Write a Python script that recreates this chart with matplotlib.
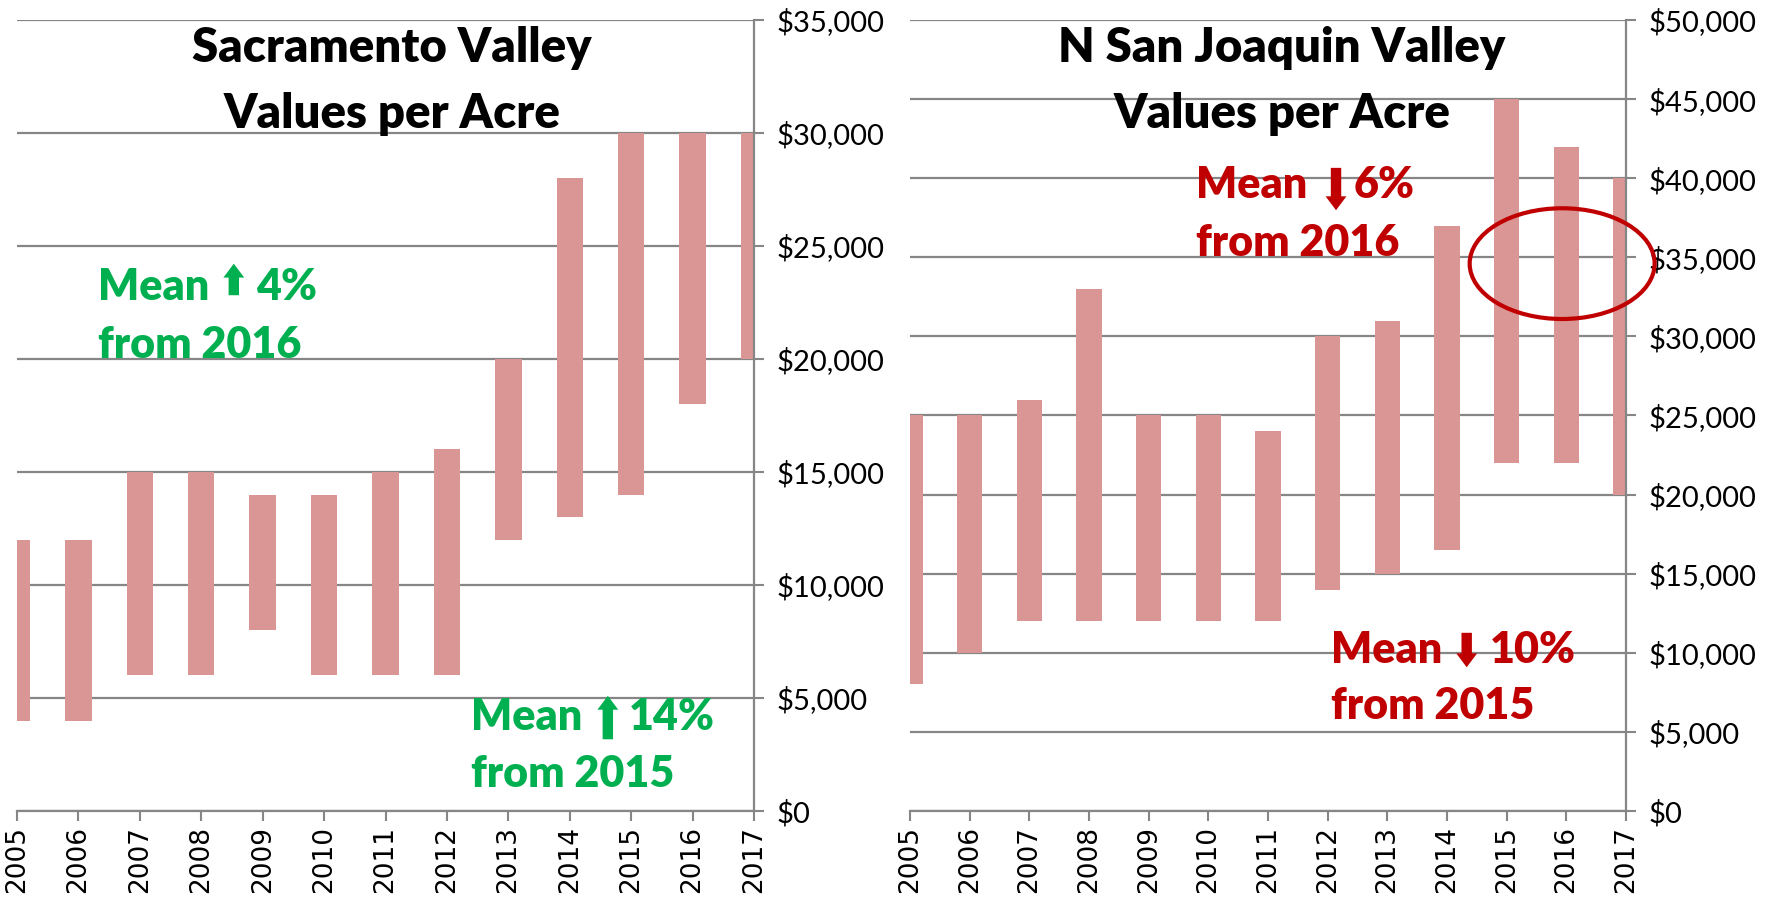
import matplotlib
matplotlib.use("Agg")
import matplotlib.pyplot as plt
from matplotlib.patches import Ellipse
from matplotlib.ticker import FuncFormatter

# ── Data ───────────────────────────────────────────────────────
YEARS = [2005, 2006, 2007, 2008, 2009, 2010, 2011, 2012, 2013, 2014, 2015, 2016, 2017]

SAC_LOW = [4000, 4000, 6000, 6000, 8000, 6000, 6000, 6000, 12000, 13000, 14000, 18000, 20000]
SAC_HIGH = [12000, 12000, 15000, 15000, 14000, 14000, 15000, 16000, 20000, 28000, 30000, 30000, 30000]

NSJ_LOW = [8000, 10000, 12000, 12000, 12000, 12000, 12000, 14000, 15000, 16500, 22000, 22000, 20000]
NSJ_HIGH = [25000, 25000, 26000, 33000, 25000, 25000, 24000, 30000, 31000, 37000, 45000, 42000, 40000]

BAR_COLOR = "#D99694"
GRID = "#868686"
GREEN = "#00B050"
RED = "#C00000"
FONT = "Lato"

fig = plt.figure(figsize=(17.77, 9), dpi=100)
ax1 = fig.add_axes([17 / 1777, 89 / 900, 737 / 1777, 791 / 900])
ax2 = fig.add_axes([910 / 1777, 89 / 900, 716 / 1777, 791 / 900])


def money(v, _):
    return f"${v:,.0f}"


def style_axes(ax, low, high, ymax, step):
    ax.bar(YEARS, [h - l for h, l in zip(high, low)], bottom=low,
           width=0.43, color=BAR_COLOR, zorder=2)
    ax.set_xlim(2005, 2017)
    ax.set_ylim(0, ymax)
    ax.set_yticks(range(0, ymax + 1, step))
    ax.set_xticks(YEARS)
    ax.set_xticklabels([str(y) for y in YEARS], rotation=90,
                       fontsize=19, family="DejaVu Sans")
    ax.yaxis.tick_right()
    ax.yaxis.set_major_formatter(FuncFormatter(money))
    ax.tick_params(axis="y", direction="out", length=7, width=1.5,
                   color=GRID, pad=9, labelsize=21, labelfontfamily=FONT)
    ax.tick_params(axis="x", direction="out", length=7, width=1.5,
                   color=GRID, pad=4)
    ax.grid(axis="y", color=GRID, linewidth=1.6)
    ax.set_axisbelow(True)
    for side in ("top", "left"):
        ax.spines[side].set_visible(False)
    for side in ("right", "bottom"):
        ax.spines[side].set_color(GRID)
        ax.spines[side].set_linewidth(1.6)


def mean_note(ax, x, y, word, arrow_x, arrow_y0, arrow_y1, pct_x, pct, line2, y2, color):
    kw = dict(fontsize=31, fontweight="heavy", family=FONT, color=color,
              va="baseline", ha="left")
    ax.text(x, y, word, **kw)
    ax.text(pct_x, y, pct, **kw)
    ax.text(x, y2, line2, **kw)
    ax.annotate("", xy=(arrow_x, arrow_y1), xytext=(arrow_x, arrow_y0),
                arrowprops=dict(arrowstyle="simple,head_width=1.5,head_length=1.0,tail_width=0.75",
                                color=color, lw=0))


style_axes(ax1, SAC_LOW, SAC_HIGH, 35000, 5000)
style_axes(ax2, NSJ_LOW, NSJ_HIGH, 50000, 5000)

title_kw = dict(fontsize=34, fontweight="heavy", family=FONT, ha="center",
                va="baseline", color="black")
ax1.text(2011.1, 33140, "Sacramento Valley", **title_kw)
ax1.text(2011.1, 30220, "Values per Acre", **title_kw)
ax2.text(2011.23, 47350, "N San Joaquin Valley", **title_kw)
ax2.text(2011.23, 43170, "Values per Acre", **title_kw)

mean_note(ax1, 2006.32, 22610, "Mean", 2008.53, 22700, 24340, 2008.89, "4%",
          "from 2016", 20040, GREEN)
mean_note(ax1, 2012.39, 3580, "Mean", 2014.62, 3050, 5220, 2014.96, "14%",
          "from 2015", 1060, GREEN)
mean_note(ax2, 2009.79, 38750, "Mean", 2012.14, 40830, 37800, 2012.44, "6%",
          "from 2016", 35080, RED)
mean_note(ax2, 2012.06, 9355, "Mean", 2014.33, 11440, 8910, 2014.72, "10%",
          "from 2015", 5815, RED)

ax2.add_patch(Ellipse((2015.93, 34600), width=3.1, height=7000, fill=False,
                      edgecolor=RED, linewidth=3, clip_on=False, zorder=3))

fig.savefig("out.png", dpi=100)
